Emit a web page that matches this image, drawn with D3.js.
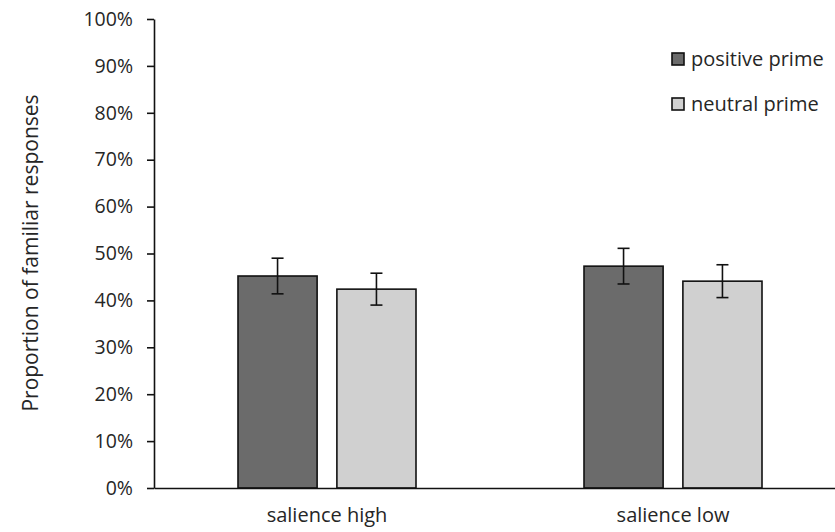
<!DOCTYPE html>
<html><head><meta charset="utf-8">
<script src="https://cdn.jsdelivr.net/npm/d3@7"></script>
<style>body{margin:0;background:#fff}svg{display:block}text{font-family:"Open Sans",sans-serif;fill:#262626}</style>
</head><body>
<svg id="c" width="835" height="532"></svg>
<script>
const categories = ["salience high", "salience low"];
const seriesNames = ["positive prime", "neutral prime"];
const positive = [45.2, 47.3];
const positiveErr = [3.8, 3.8];
const neutral = [42.4, 44.1];
const neutralErr = [3.4, 3.5];
const yTicks = [0,10,20,30,40,50,60,70,80,90,100];
const colors = ["#6b6b6b", "#d0d0d0"];

const svg = d3.select("#c");
const x0 = 154, yBottom = 488, yTop = 19;
const x = d3.scaleBand().domain(categories).range([x0, 846]);
const y = d3.scaleLinear().domain([0,100]).range([yBottom, yTop]);
const xs = d3.scaleBand().domain(seriesNames).range([0, 178]).paddingInner(0.2);

const data = categories.map((c,i)=>({c, vals:[{s:seriesNames[0], v:positive[i], e:positiveErr[i]},{s:seriesNames[1], v:neutral[i], e:neutralErr[i]}]}));

const g = svg.append("g");
const groups = g.selectAll("g.cat").data(data).enter().append("g")
  .attr("transform", d=>`translate(${x(d.c)+x.bandwidth()/2-89},0)`);
groups.selectAll("rect").data(d=>d.vals).enter().append("rect")
  .attr("x", d=>xs(d.s)).attr("width", xs.bandwidth())
  .attr("y", d=>y(d.v)).attr("height", d=>yBottom-y(d.v))
  .attr("fill", (d,i)=>colors[i]).attr("stroke","#111").attr("stroke-width",1.6);
const eb = groups.selectAll("g.err").data(d=>d.vals).enter().append("g")
  .attr("stroke","#111").attr("stroke-width",1.6);
eb.append("line").attr("x1",d=>xs(d.s)+xs.bandwidth()/2).attr("x2",d=>xs(d.s)+xs.bandwidth()/2)
  .attr("y1",d=>y(d.v+d.e)).attr("y2",d=>y(d.v-d.e));
eb.append("line").attr("x1",d=>xs(d.s)+xs.bandwidth()/2-6).attr("x2",d=>xs(d.s)+xs.bandwidth()/2+6)
  .attr("y1",d=>y(d.v+d.e)).attr("y2",d=>y(d.v+d.e));
eb.append("line").attr("x1",d=>xs(d.s)+xs.bandwidth()/2-6).attr("x2",d=>xs(d.s)+xs.bandwidth()/2+6)
  .attr("y1",d=>y(d.v-d.e)).attr("y2",d=>y(d.v-d.e));

// y axis
const ya = svg.append("g").attr("transform",`translate(${x0},0)`)
  .call(d3.axisLeft(y).tickValues(yTicks).tickFormat(d=>d+"%").tickSize(7).tickSizeOuter(0).tickPadding(14));
ya.select(".domain").attr("stroke","#111").attr("stroke-width",1.6);
ya.selectAll(".tick line").attr("stroke","#111").attr("stroke-width",1.6);
ya.selectAll(".tick text").attr("font-size",19.5).attr("font-family",'"Open Sans",sans-serif').attr("fill","#262626");

// x axis
const xa = svg.append("g").attr("transform",`translate(0,${yBottom})`)
  .call(d3.axisBottom(x).tickSize(0).tickPadding(0));
xa.select(".domain").attr("stroke","#111").attr("stroke-width",1.6);
xa.selectAll(".tick text").attr("font-size",20).attr("font-family",'"Open Sans",sans-serif').attr("fill","#262626")
  .attr("dy",null).attr("y",34);

// y label
svg.append("text").attr("transform","translate(38,253) rotate(-90)").attr("text-anchor","middle")
  .attr("font-size",21).text("Proportion of familiar responses");

// legend
const lg = svg.append("g").attr("transform","translate(672,53)");
seriesNames.forEach((s,i)=>{
  const r = lg.append("g").attr("transform",`translate(0,${i*45})`);
  r.append("rect").attr("width",12).attr("height",12).attr("fill",colors[i]).attr("stroke","#111").attr("stroke-width",1.6);
  r.append("text").attr("x",19).attr("y",13).attr("font-size",20).text(s);
});
</script>
</body></html>
